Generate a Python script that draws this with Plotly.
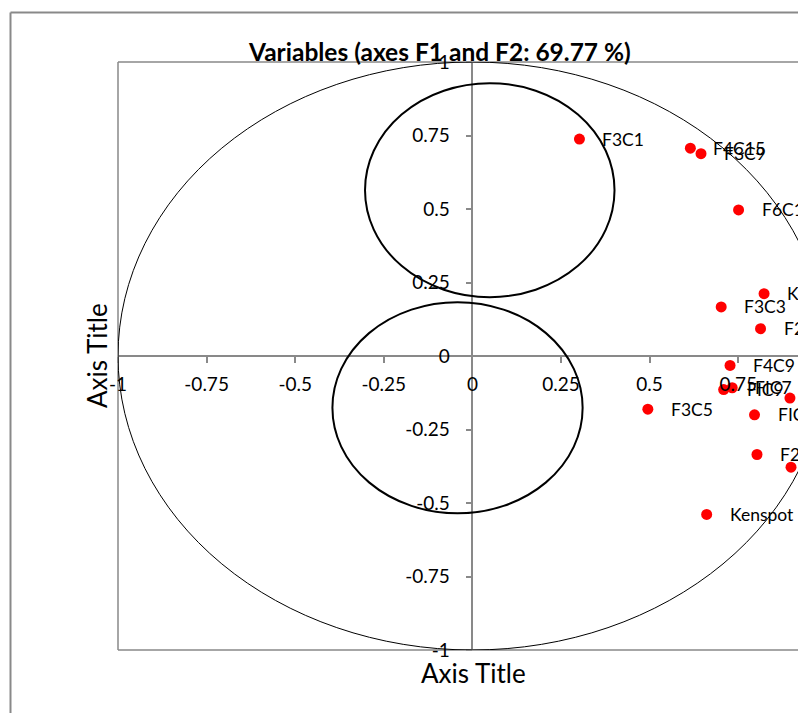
import plotly.graph_objects as go

# ---- data ----
var_labels = ["F3C1", "F4C15", "F3C9", "F6C12", "Kenspot 1", "F3C3", "F2C3", "F4C9",
              "FIC9", "FIC7", "F1C1", "F3C5", "FIC12", "F2C5", "F5C1", "Kenspot"]
f1_values = [0.302, 0.615, 0.645, 0.751, 0.823, 0.702, 0.813, 0.727,
             0.709, 0.733, 0.896, 0.495, 0.796, 0.803, 0.899, 0.661]
f2_values = [0.738, 0.707, 0.688, 0.497, 0.212, 0.167, 0.093, -0.032,
             -0.114, -0.108, -0.143, -0.181, -0.200, -0.335, -0.378, -0.539]

tick_vals = [-1, -0.75, -0.5, -0.25, 0, 0.25, 0.5, 0.75, 1]
tick_text = ["-1", "-0.75", "-0.5", "-0.25", "0", "0.25", "0.5", "0.75", "1"]

# highlight ellipses (centre x, centre y, radius x, radius y) in data units
circle_cx = [0.049, -0.042]
circle_cy = [0.564, -0.176]
circle_rx = [0.352, 0.353]
circle_ry = [0.364, 0.359]

title_text = "Variables (axes F1 and F2: 69.77 %)"
x_title = "Axis Title"
y_title = "Axis Title"

# ---- figure ----
W, H = 798, 713
ML, MT, MB = 118, 62, 63
X_MAX = 0.9187
FONT = "Lato"
GRAY = "#898989"

fig = go.Figure()
fig.add_trace(go.Scatter(
    x=f1_values, y=f2_values, mode="markers",
    marker=dict(color="#ff0000", size=11),
    hoverinfo="skip", showlegend=False, cliponaxis=False,
))

for lab, xv, yv in zip(var_labels, f1_values, f2_values):
    fig.add_annotation(x=xv, y=yv, text=lab, showarrow=False, xanchor="left",
                       yanchor="middle", xshift=21, yshift=0,
                       font=dict(family=FONT, size=17.5, color="#000000"))

# unit correlation circle
fig.add_shape(type="circle", xref="x", yref="y", x0=-1, y0=-1, x1=1, y1=1,
              line=dict(color="#000000", width=1), layer="above")
for cx, cy, rx, ry in zip(circle_cx, circle_cy, circle_rx, circle_ry):
    fig.add_shape(type="circle", xref="x", yref="y", x0=cx - rx, y0=cy - ry,
                  x1=cx + rx, y1=cy + ry, line=dict(color="#000000", width=2),
                  layer="above")

pw = W - ML
ph = H - MT - MB
def px_x(p):
    return (p - ML) / pw
def px_y(p):
    return (H - MB - p) / ph

# plot-area border (left, top, bottom)
for (x0, y0, x1, y1) in [(0, 0, 0, 1), (0, 1, 1.05, 1), (0, 0, 1.05, 0)]:
    fig.add_shape(type="line", xref="paper", yref="paper", x0=x0, y0=y0, x1=x1, y1=y1,
                  line=dict(color=GRAY, width=1.5), layer="below")
# outer chart frame (left, top)
fx, fy = px_x(10.5), px_y(12.5)
fig.add_shape(type="line", xref="paper", yref="paper", x0=fx, y0=px_y(720), x1=fx, y1=fy,
              line=dict(color=GRAY, width=2), layer="below")
fig.add_shape(type="line", xref="paper", yref="paper", x0=fx, y0=fy, x1=1.1, y1=fy,
              line=dict(color=GRAY, width=2), layer="below")

# titles
fig.add_annotation(xref="paper", yref="paper", x=px_x(439), y=px_y(51), text="<b>" + title_text + "</b>",
                   showarrow=False, xanchor="center", yanchor="middle",
                   font=dict(family=FONT, size=24.5, color="#000000"))
fig.add_annotation(xref="paper", yref="paper", x=px_x(473), y=px_y(673), text=x_title,
                   showarrow=False, xanchor="center", yanchor="middle",
                   font=dict(family=FONT, size=26, color="#000000"))
fig.add_annotation(xref="paper", yref="paper", x=px_x(97), y=px_y(356), text=y_title,
                   showarrow=False, xanchor="center", yanchor="middle", textangle=-90,
                   font=dict(family=FONT, size=26, color="#000000"))

y_axis_pos = (0 - (-1)) / (X_MAX - (-1))

fig.update_layout(
    width=W, height=H,
    margin=dict(l=ML, r=0, t=MT, b=MB),
    paper_bgcolor="white", plot_bgcolor="white",
    showlegend=False,
    xaxis=dict(range=[-1, X_MAX], tickvals=tick_vals, ticktext=tick_text,
               ticks="outside", ticklen=6, tickcolor=GRAY, tickwidth=1.5,
               showline=True, linecolor=GRAY, linewidth=1.5,
               showgrid=False, zeroline=False, anchor="free", position=0.5,
               tickfont=dict(family=FONT, size=19, color="#000000"),
               ticklabelstandoff=5),
    yaxis=dict(range=[-1, 1], tickvals=tick_vals, ticktext=tick_text,
               ticks="outside", ticklen=6, tickcolor=GRAY, tickwidth=1.5,
               showline=True, linecolor=GRAY, linewidth=1.5,
               showgrid=False, zeroline=False, anchor="free", position=y_axis_pos,
               tickfont=dict(family=FONT, size=19, color="#000000"),
               ticklabelstandoff=12),
)

fig.write_html("out.html", config={"displayModeBar": False},
               post_script="document.body.style.margin='0';document.body.style.overflow='hidden';")
